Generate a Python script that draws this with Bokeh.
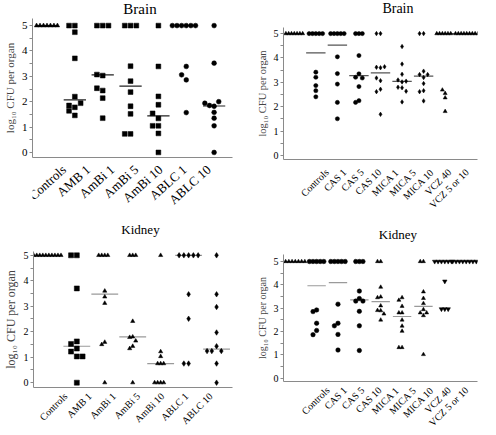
import math
from bokeh.plotting import figure
from bokeh.models import Range1d, FixedTicker, ColumnDataSource
from bokeh.core.properties import value
from bokeh.layouts import row, column
from bokeh.embed import file_html
from bokeh.resources import INLINE

FONT = "Liberation Serif"

# ---------------- categories ----------------
LEFT_CATS = ["Controls", "AMB 1", "AmBi 1", "AmBi 5", "AmBi 10", "ABLC 1", "ABLC 10"]
RIGHT_CATS = ["Controls", "CAS 1", "CAS 5", "CAS 10", "MICA 1", "MICA 5",
              "MICA 10", "VCZ 40", "VCZ 5 or 10"]

# ---------------- Brain (polyenes) ----------------
BRAIN_L_CONTROLS = [5, 5, 5, 5, 5, 5, 5]
BRAIN_L_AMB1 = [5, 5, 4.74, 3.71, 2.2, 1.78, 1.85, 1.94, 1.64, 1.46]
BRAIN_L_AMBI1 = [5, 5, 5, 3.03, 3.07, 2.44, 2.53, 2.14, 1.35]
BRAIN_L_AMBI5 = [5, 5, 5, 3.40, 2.81, 2.38, 1.82, 1.52, 0.73, 0.73]
BRAIN_L_AMBI10 = [5, 3.39, 2.21, 1.88, 1.34, 1.54, 1.05, 1.05, 0.75, 0]
BRAIN_L_ABLC1 = [5, 5, 5, 5, 5, 5, 3.39, 2.86, 3.06, 1.57]
BRAIN_L_ABLC10 = [5, 3.52, 1.82, 1.85, 2.0, 1.94, 1.58, 1.35, 1.05, 0]
BRAIN_L_MEDIANS = [5, 2.07, 3.06, 2.61, 1.44, 5, 1.83]

# ---------------- Kidney (polyenes) ----------------
KIDNEY_L_CONTROLS = [5, 5, 5, 5, 5, 5, 5, 5, 5, 5]
KIDNEY_L_AMB1 = [5, 5, 3.70, 1.62, 1.52, 1.34, 1.22, 1.03, 1.03, 0]
KIDNEY_L_AMBI1 = [5, 5, 5, 5, 3.60, 3.37, 3.12, 1.59, 1.50, 0]
KIDNEY_L_AMBI5 = [5, 5, 5, 2.41, 1.80, 1.78, 1.64, 1.43, 1.34, 0]
KIDNEY_L_AMBI10 = [5, 1.22, 1.03, 0.75, 0.75, 0.75, 0, 0, 0, 0]
KIDNEY_L_ABLC1 = [5, 5, 5, 5, 5, 3.47, 2.51, 0.75, 0.75]
KIDNEY_L_ABLC10 = [5, 3.47, 2.97, 1.97, 1.43, 1.24, 1.24, 1.24, 0.75, 0]
KIDNEY_L_MEDIANS = [5, 1.43, 3.48, 1.80, 0.75, 5, 1.32]

# ---------------- Brain (echinocandins / VCZ) ----------------
BRAIN_R_CONTROLS = [5, 5, 5, 5, 5, 5, 5]
BRAIN_R_CAS1 = [5, 5, 5, 5, 5, 3.42, 3.21, 2.87, 2.66, 2.41]
BRAIN_R_CAS5 = [5, 5, 5, 5, 5, 4.05, 3.36, 2.93, 2.18, 1.51]
BRAIN_R_CAS10 = [5, 5, 5, 4.10, 3.35, 3.21, 3.18, 2.83, 2.25, 2.18]
BRAIN_R_MICA1 = [5, 5, 3.60, 3.62, 3.64, 3.07, 3.18, 2.72, 2.62, 1.69]
BRAIN_R_MICA5 = [4.47, 3.75, 3.33, 3.02, 3.10, 3.05, 2.78, 2.80, 2.64, 2.20]
BRAIN_R_MICA10 = [5, 5, 3.46, 3.32, 3.32, 3.20, 2.95, 2.66, 2.62, 2.24]
BRAIN_R_VCZ40 = [5, 5, 5, 5, 5, 5, 2.55, 2.69, 2.37, 1.81]
BRAIN_R_VCZ5 = [5, 5, 5, 5, 5, 5, 5, 5, 5]
BRAIN_R_MEDIANS = [5, 4.21, 4.53, 3.28, 3.39, 3.04, 3.26, 5, 5]

# ---------------- Kidney (echinocandins / VCZ) ----------------
KIDNEY_R_CONTROLS = [5, 5, 5, 5, 5, 5, 5, 5]
KIDNEY_R_CAS1 = [5, 5, 5, 5, 5, 2.92, 2.85, 2.35, 2.04, 1.86]
KIDNEY_R_CAS5 = [5, 5, 5, 5, 5, 3.17, 2.35, 2.24, 1.87, 1.20]
KIDNEY_R_CAS10 = [5, 5, 5, 3.73, 3.41, 3.30, 3.30, 2.86, 2.24, 1.18]
KIDNEY_R_MICA1 = [5, 5, 3.90, 3.48, 3.45, 3.10, 2.89, 2.90, 2.75, 2.49]
KIDNEY_R_MICA5 = [3.45, 3.34, 3.08, 2.80, 2.80, 2.49, 2.23, 2.01, 1.31, 1.31]
KIDNEY_R_MICA10 = [5, 5, 3.70, 3.42, 3.20, 2.94, 2.80, 2.80, 2.68, 1.01]
KIDNEY_R_VCZ40 = [5, 5, 5, 5, 5, 5, 4.15, 2.96, 2.96, 2.96]
KIDNEY_R_VCZ5 = [5, 5, 5, 5, 5, 5, 5, 5, 5]
KIDNEY_R_MEDIANS = [5, 3.96, 4.09, 3.35, 3.28, 2.64, 3.07, 5, 5]

Y_TICKS = [0, 1, 2, 3, 4, 5]
Y_LABEL = "log\u2081\u2080 CFU per organ"

# marker styles
BRAIN_L_MARKERS = ["triangle", "square", "square", "square", "square", "circle", "circle"]
KIDNEY_L_MARKERS = ["triangle", "square", "triangle", "triangle", "triangle", "diamond", "diamond"]
BRAIN_R_MARKERS = ["triangle", "circle", "circle", "circle", "diamond", "diamond", "diamond",
                   "triangle", "triangle"]
KIDNEY_R_MARKERS = ["triangle", "circle", "circle", "circle", "triangle", "triangle", "triangle",
                    "inverted_triangle", "inverted_triangle"]


def swarm(vals, center, slot_w, thresh):
    order = [0, -1, 1, -2, 2, -3, 3, -4, 4, -5, 5, -6, 6]
    placed = []
    xs = []
    for v in vals:
        chosen = order[-1]
        for s in order:
            if all(not (ps == s and abs(pv - v) < thresh) for ps, pv in placed):
                chosen = s
                break
        placed.append((chosen, v))
        xs.append(center + chosen * slot_w)
    return xs


def strip(w, h, xr):
    s = figure(width=w, height=h, x_range=Range1d(*xr), y_range=Range1d(0, h),
               output_backend="svg", toolbar_location=None,
               min_border_left=0, min_border_right=0, min_border_top=0, min_border_bottom=0,
               x_axis_location=None, y_axis_location=None)
    s.xgrid.visible = False
    s.ygrid.visible = False
    s.outline_line_color = None
    return s


def panel(title, cats, groups, medians, markers, cfg):
    w = cfg["w"]
    l, r, t, b = cfg["border"]
    fh = cfg["fh"]
    h = t + fh + b
    xr, yr = cfg["xr"], cfg["yr"]
    fw = w - l - r
    ppc = fw / (xr[1] - xr[0])
    ppu = fh / (yr[1] - yr[0])

    # title strip
    th = cfg["title_h"]
    ts = strip(w, th, (0, w))
    ts.text(x=[l + fw / 2], y=[th - cfg["title_top"]], text=[title],
            text_align="center", text_baseline="top",
            text_font=value(FONT), text_font_size=value(cfg["title_fs"]), text_color="black")

    p = figure(width=w, height=h, x_range=Range1d(*xr), y_range=Range1d(*yr),
               output_backend="svg", toolbar_location=None,
               min_border_left=l, min_border_right=r, min_border_top=t, min_border_bottom=b)

    hw = cfg["mhw"]
    n = len(cats)
    p.segment(x0=[i - hw for i in range(n)], x1=[i + hw for i in range(n)],
              y0=medians, y1=medians, line_color=cfg["mcol"], line_width=1.2)
    for i, (vals, m) in enumerate(zip(groups, markers)):
        s = cfg["sizes"][m]
        slot_px = s * cfg["slot"][m]
        xs = swarm(vals, i, slot_px / ppc, (s + 0.3) / ppu)
        p.scatter(xs, vals, marker=m, size=s, fill_color="black", line_color="black",
                  line_width=0.5)

    p.xgrid.visible = False
    p.ygrid.visible = False
    p.outline_line_color = None
    axcol = "#8a8a8a"
    for ax in (p.xaxis[0], p.yaxis[0]):
        ax.axis_line_color = axcol
        ax.major_tick_line_color = axcol
        ax.minor_tick_line_color = axcol
        ax.major_label_text_font = FONT
        ax.major_label_text_color = "black"
    yax = p.yaxis[0]
    yax.ticker = FixedTicker(ticks=Y_TICKS, minor_ticks=[0.5, 1.5, 2.5, 3.5, 4.5])
    yax.major_tick_out = 3
    yax.major_tick_in = 0
    yax.minor_tick_out = 3
    yax.minor_tick_in = 0
    yax.major_label_standoff = 2
    yax.major_label_text_font_size = cfg["tick_fs"]
    yax.axis_label = Y_LABEL
    yax.axis_label_text_font = FONT
    yax.axis_label_text_font_style = "normal"
    yax.axis_label_text_font_size = cfg["ylab_fs"]
    yax.axis_label_standoff = 3

    xax = p.xaxis[0]
    xax.ticker = FixedTicker(ticks=[])
    xax.major_tick_out = 0
    xax.major_tick_in = 0
    xax.major_label_standoff = 0
    xax.major_tick_line_color = None
    xax.minor_tick_line_color = None

    # strip holding the rotated category names, sharing the panel's x scale
    lh = cfg["lab_h"]
    lab = strip(w, lh, (xr[0] - l / ppc, xr[1] + r / ppc))
    src = ColumnDataSource(dict(x=list(range(n)), y=[lh - cfg["lab_dy"]] * n, text=cats))
    lab.text(x="x", y="y", text="text", source=src, angle=cfg["lab_angle"],
             text_align="right", text_baseline="middle", x_offset=cfg["lab_dx"],
             text_font=value(FONT), text_font_size=value(cfg["cat_fs"]), text_color="black")
    return column(ts, p, lab)


TL = panel("Brain", LEFT_CATS,
           [BRAIN_L_CONTROLS, BRAIN_L_AMB1, BRAIN_L_AMBI1, BRAIN_L_AMBI5, BRAIN_L_AMBI10,
            BRAIN_L_ABLC1, BRAIN_L_ABLC10],
           BRAIN_L_MEDIANS, BRAIN_L_MARKERS,
           dict(w=239, fh=139, border=(25, 7, 2, 3), xr=(-0.52, 6.66), yr=(-0.2, 5.28),
                title_h=16, title_top=0, title_fs="15px", tick_fs="11px", ylab_fs="11px",
                cat_fs="13px", lab_h=46, lab_dy=7, lab_dx=-2, lab_angle=math.radians(42),
                mhw=0.4, mcol="#222222",
                sizes={"triangle": 4.5, "square": 4.8, "circle": 4.8},
                slot={"triangle": 0.8, "square": 1.25, "circle": 1.0}))

TR = panel("Brain", RIGHT_CATS,
           [BRAIN_R_CONTROLS, BRAIN_R_CAS1, BRAIN_R_CAS5, BRAIN_R_CAS10, BRAIN_R_MICA1,
            BRAIN_R_MICA5, BRAIN_R_MICA10, BRAIN_R_VCZ40, BRAIN_R_VCZ5],
           BRAIN_R_MEDIANS, BRAIN_R_MARKERS,
           dict(w=239, fh=132, border=(44, 1, 2, 3), xr=(-0.5, 8.5), yr=(-0.16, 5.25),
                title_h=25, title_top=0, title_fs="14px", tick_fs="10px", ylab_fs="10.5px",
                cat_fs="10px", lab_h=47, lab_dy=8, lab_dx=-1, lab_angle=math.pi / 4,
                mhw=0.45, mcol="#555555",
                sizes={"triangle": 4, "circle": 4.2, "diamond": 4.5},
                slot={"triangle": 0.7, "circle": 0.8, "diamond": 0.9}))

BL = panel("Kidney", LEFT_CATS,
           [KIDNEY_L_CONTROLS, KIDNEY_L_AMB1, KIDNEY_L_AMBI1, KIDNEY_L_AMBI5, KIDNEY_L_AMBI10,
            KIDNEY_L_ABLC1, KIDNEY_L_ABLC10],
           KIDNEY_L_MEDIANS, KIDNEY_L_MARKERS,
           dict(w=239, fh=136, border=(25, 7, 2, 3), xr=(-0.55, 6.57), yr=(-0.19, 5.15),
                title_h=40, title_top=12, title_fs="13px", tick_fs="10px", ylab_fs="12px",
                cat_fs="10px", lab_h=36, lab_dy=4, lab_dx=-2, lab_angle=math.pi / 4,
                mhw=0.48, mcol="#9a9a9a",
                sizes={"triangle": 4.2, "square": 5, "diamond": 5.5},
                slot={"triangle": 0.75, "square": 1.2, "diamond": 0.9}))

BR = panel("Kidney", RIGHT_CATS,
           [KIDNEY_R_CONTROLS, KIDNEY_R_CAS1, KIDNEY_R_CAS5, KIDNEY_R_CAS10, KIDNEY_R_MICA1,
            KIDNEY_R_MICA5, KIDNEY_R_MICA10, KIDNEY_R_VCZ40, KIDNEY_R_VCZ5],
           KIDNEY_R_MEDIANS, KIDNEY_R_MARKERS,
           dict(w=239, fh=127, border=(44, 1, 2, 3), xr=(-0.55, 8.53), yr=(-0.15, 5.3),
                title_h=43, title_top=17, title_fs="13px", tick_fs="10px", ylab_fs="10px",
                cat_fs="10px", lab_h=43, lab_dy=4, lab_dx=-1, lab_angle=math.pi / 4,
                mhw=0.43, mcol="#9a9a9a",
                sizes={"triangle": 4, "circle": 4.5, "inverted_triangle": 4.5},
                slot={"triangle": 0.8, "circle": 0.8, "inverted_triangle": 0.75}))

p = column(row(TL, TR), row(BL, BR))
open("out.html", "w").write(file_html(p, INLINE))
